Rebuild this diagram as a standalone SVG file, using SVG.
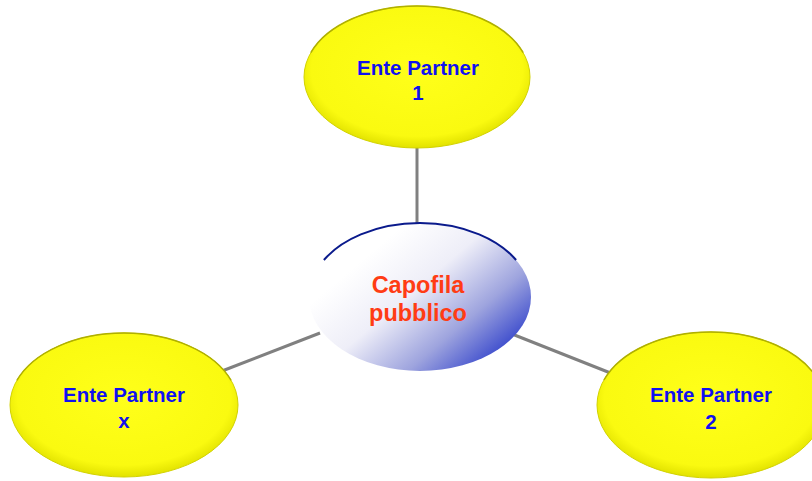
<svg xmlns="http://www.w3.org/2000/svg" width="812" height="481" viewBox="0 0 812 481">
<style>
.conn{stroke:#808080;stroke-width:3;fill:none}
.yel{fill:url(#yg);stroke:#d2d200;stroke-width:1}
.rim{fill:none;stroke:#b0b000;stroke-width:1.5}
.pt{font-family:"Liberation Sans",Arial,sans-serif;font-weight:bold;font-size:20.5px;fill:#1010f0;text-anchor:middle}
.ct{font-family:"Liberation Sans",Arial,sans-serif;font-weight:bold;font-size:23.5px;fill:#ff3c14;text-anchor:middle}
</style>
<defs>
<radialGradient id="yg" cx="0.5" cy="0.45" r="0.55">
<stop offset="0" stop-color="#ffff1a"/>
<stop offset="0.85" stop-color="#fafa10"/>
<stop offset="1" stop-color="#e2e200"/>
</radialGradient>
<linearGradient id="bg" x1="0.2" y1="0.3" x2="0.9" y2="0.85">
<stop offset="0" stop-color="#ffffff"/>
<stop offset="0.35" stop-color="#eeeef8"/>
<stop offset="0.7" stop-color="#9ea4de"/>
<stop offset="1" stop-color="#3848cc"/>
</linearGradient>
</defs>
<g id="connectors">
<line class="conn" x1="417" y1="148" x2="417" y2="224"/>
<line class="conn" x1="222" y1="371" x2="320" y2="333"/>
<line class="conn" x1="512" y1="334" x2="613" y2="374"/>
</g>
<g id="capofila">
<ellipse cx="420" cy="297" rx="111" ry="74" fill="url(#bg)"/>
<path d="M323.9 260 A111 74 0 0 1 516.1 260" fill="none" stroke="#0a1a8c" stroke-width="2"/>
<text class="ct" x="418" y="293">Capofila</text>
<text class="ct" x="418" y="321">pubblico</text>
</g>
<g id="partner1">
<ellipse class="yel" cx="417" cy="77" rx="113" ry="71"/>
<path class="rim" d="M310.8 52.7 A113 71 0 0 1 523.2 52.7"/>
<text class="pt" x="418" y="75">Ente Partner</text>
<text class="pt" x="418" y="100">1</text>
</g>
<g id="partnerx">
<ellipse class="yel" cx="124" cy="405" rx="114" ry="72"/>
<path class="rim" d="M16.9 380.4 A114 72 0 0 1 231.1 380.4"/>
<text class="pt" x="124" y="402">Ente Partner</text>
<text class="pt" x="124" y="428">x</text>
</g>
<g id="partner2">
<ellipse class="yel" cx="711" cy="405" rx="114" ry="73"/>
<path class="rim" d="M603.9 380 A114 73 0 0 1 818.1 380"/>
<text class="pt" x="711" y="402">Ente Partner</text>
<text class="pt" x="711" y="429">2</text>
</g>
</svg>
